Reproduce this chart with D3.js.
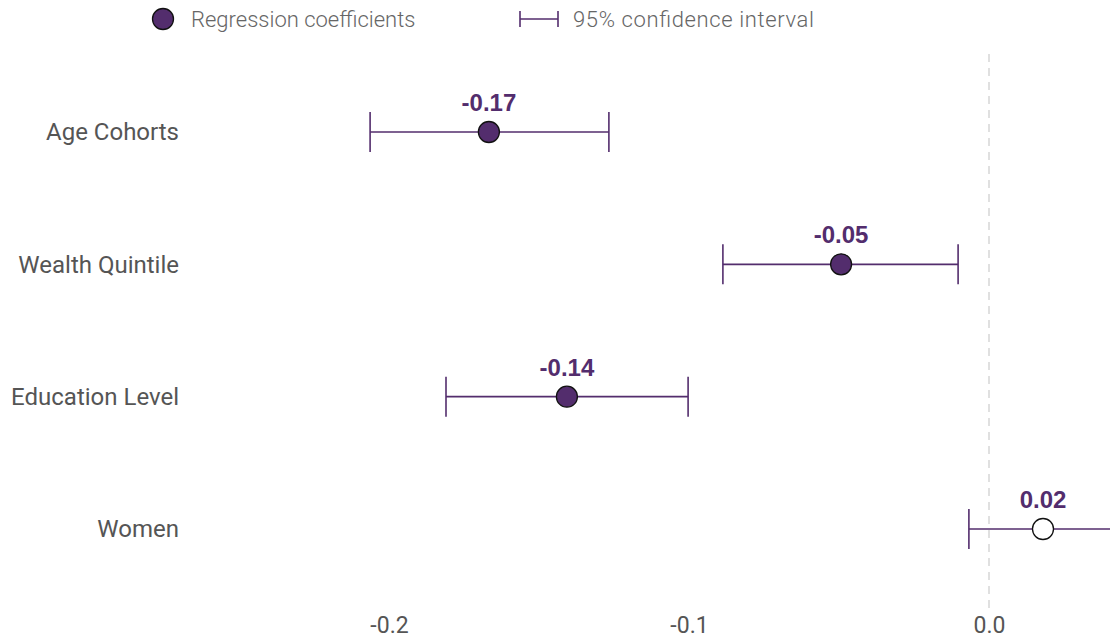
<!DOCTYPE html>
<html>
<head>
<meta charset="utf-8">
<script src="https://cdn.jsdelivr.net/npm/d3@7"></script>
<style>
  html, body { margin: 0; padding: 0; background: #fff; }
  svg { display: block; }
</style>
</head>
<body>
<svg id="chart" width="1110" height="638"></svg>
<script>
// Regression coefficients with 95% confidence intervals
const categories = ["Age Cohorts", "Wealth Quintile", "Education Level", "Women"];
const coefficients = [-0.1667, -0.0493, -0.1407, 0.018];
const ciLower = [-0.2063, -0.0887, -0.181, -0.0067];
const ciUpper = [-0.1267, -0.0103, -0.1003, 0.048];
const significant = [true, true, true, false];
const xTicks = [-0.2, -0.1, 0.0];

const purple = "#532d6d";
const svg = d3.select("#chart");

const x = d3.scaleLinear().domain([-0.2, 0.0]).range([389, 989]);
const y = d3.scalePoint().domain(categories).range([132, 529]);

const rows = categories.map((c, i) => ({
  cat: c, est: coefficients[i], lo: ciLower[i], hi: ciUpper[i], sig: significant[i]
}));

// zero reference line
svg.append("line")
  .attr("x1", x(0)).attr("x2", x(0))
  .attr("y1", 54).attr("y2", 610)
  .attr("stroke", "#d6d6d6").attr("stroke-width", 1.5)
  .attr("stroke-dasharray", "8,6");

// x axis labels (plain hyphen for negatives)
const xAxis = d3.axisBottom(x).tickValues(xTicks)
  .tickFormat(d => d.toFixed(1)).tickSize(0).tickPadding(0);
const gx = svg.append("g").attr("transform", "translate(0,617)").call(xAxis);
gx.select(".domain").remove();
gx.selectAll("text")
  .attr("font-family", "Roboto, sans-serif")
  .attr("font-size", 23)
  .attr("fill", "#555")
  .attr("dy", "0.71em");

// y axis labels
const yAxis = d3.axisLeft(y).tickSize(0).tickPadding(0);
const gy = svg.append("g").attr("transform", "translate(179,0)").call(yAxis);
gy.select(".domain").remove();
gy.selectAll("text")
  .attr("font-family", "Roboto, sans-serif")
  .attr("font-size", 24)
  .attr("fill", "#555");

const plot = svg.append("g");
const capH = 20;

const g = plot.selectAll("g.row").data(rows).join("g").attr("class", "row");

g.append("line")
  .attr("x1", d => x(d.lo)).attr("x2", d => x(d.hi))
  .attr("y1", d => y(d.cat)).attr("y2", d => y(d.cat))
  .attr("stroke", purple).attr("stroke-width", 1.6);
g.append("line")
  .attr("x1", d => x(d.lo)).attr("x2", d => x(d.lo))
  .attr("y1", d => y(d.cat) - capH).attr("y2", d => y(d.cat) + capH)
  .attr("stroke", purple).attr("stroke-width", 1.6);
g.append("line")
  .attr("x1", d => x(d.hi)).attr("x2", d => x(d.hi))
  .attr("y1", d => y(d.cat) - capH).attr("y2", d => y(d.cat) + capH)
  .attr("stroke", purple).attr("stroke-width", 1.6);

g.append("circle")
  .attr("cx", d => x(d.est)).attr("cy", d => y(d.cat)).attr("r", 10.5)
  .attr("fill", d => d.sig ? purple : "#fff")
  .attr("stroke", "#111").attr("stroke-width", 1.3);

g.append("text")
  .attr("x", d => x(d.est)).attr("y", d => y(d.cat) - 21)
  .attr("text-anchor", "middle")
  .attr("font-family", "'Liberation Sans', Arial, sans-serif")
  .attr("font-weight", "bold")
  .attr("font-size", 24)
  .attr("fill", purple)
  .text(d => d.est.toFixed(2));

// legend
const legend = svg.append("g");
legend.append("circle").attr("cx", 163).attr("cy", 19).attr("r", 10.5)
  .attr("fill", purple).attr("stroke", "#111").attr("stroke-width", 1.3);
legend.append("text").attr("x", 191).attr("y", 27)
  .attr("font-family", "Roboto, sans-serif").attr("font-weight", 300)
  .attr("font-size", 22).attr("fill", "#666")
  .text("Regression coefficients");
legend.append("line").attr("x1", 520).attr("x2", 558).attr("y1", 19).attr("y2", 19)
  .attr("stroke", purple).attr("stroke-width", 1.6);
legend.append("line").attr("x1", 520).attr("x2", 520).attr("y1", 11).attr("y2", 27)
  .attr("stroke", purple).attr("stroke-width", 1.6);
legend.append("line").attr("x1", 558).attr("x2", 558).attr("y1", 11).attr("y2", 27)
  .attr("stroke", purple).attr("stroke-width", 1.6);
legend.append("text").attr("x", 573).attr("y", 27)
  .attr("font-family", "Roboto, sans-serif").attr("font-weight", 300)
  .attr("font-size", 22).attr("fill", "#666")
  .attr("textLength", 241)
  .text("95% confidence interval");
</script>
</body>
</html>
